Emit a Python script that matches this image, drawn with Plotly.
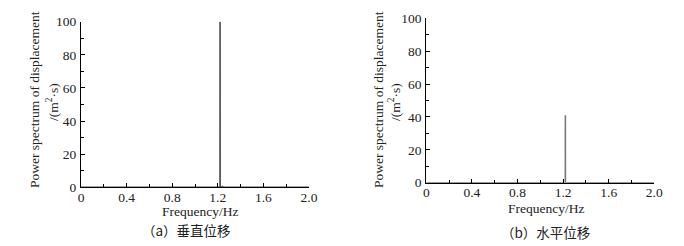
import plotly.graph_objects as go

# Data
freq_a = [0.0, 1.20, 1.2195, 1.22, 1.2205, 1.235, 1.238, 1.24, 1.242, 2.0]
psd_a = [0.0, 0.0, 0.0, 100.0, 0.0, 0.0, 0.0, 0.8, 0.0, 0.0]
freq_b = [0.0, 1.20, 1.2195, 1.22, 1.2205, 1.24, 2.0]
psd_b = [0.0, 0.0, 0.0, 41.0, 0.0, 0.0, 0.0]
x_tickvals = [0, 0.4, 0.8, 1.2, 1.6, 2.0]
x_ticktext = ["0", "0.4", "0.8", "1.2", "1.6", "2.0"]
y_tickvals = [0, 20, 40, 60, 80, 100]
captions = ["（a）垂直位移", "（b）水平位移"]
y_title_1 = "Power spectrum of displacement"
y_title_2 = "/(m<sup>2</sup>·s)"
x_title = "Frequency/Hz"

W, H = 684, 246
FONT = "Times New Roman"
TXT = "#222"

fig = go.Figure()
fig.add_trace(go.Scatter(x=freq_a, y=psd_a, mode="lines",
                         line=dict(color="#4a4a4a", width=1.6),
                         xaxis="x", yaxis="y", showlegend=False))
fig.add_trace(go.Scatter(x=freq_b, y=psd_b, mode="lines",
                         line=dict(color="#7a7a7a", width=1.6),
                         xaxis="x2", yaxis="y2", showlegend=False))

def px_x(p):
    return p / W

def px_y(p):
    return 1 - p / H

panels = [
    # x0, x1, ybottom, ytop (pixels)
    (81, 309, 187.3, 21.7),
    (426.3, 654.3, 182.7, 18.3),
]

common_x = dict(range=[0, 2.0], tickvals=x_tickvals, ticktext=x_ticktext,
                ticks="inside", ticklen=4, tickcolor="black", tickwidth=1,
                showline=True, linecolor="black", linewidth=1,
                showgrid=False, zeroline=False, automargin=False,
                minor=dict(dtick=0.2, ticks="inside", ticklen=3,
                           tickcolor="black", showgrid=False),
                tickfont=dict(family=FONT, size=13.5, color=TXT),
                ticklabelstandoff=-3,
                fixedrange=True)
common_y = dict(range=[0, 100], tickvals=y_tickvals,
                ticks="inside", ticklen=4, tickcolor="black", tickwidth=1,
                showline=True, linecolor="black", linewidth=1,
                showgrid=False, zeroline=False, automargin=False,
                minor=dict(dtick=10, ticks="inside", ticklen=3,
                           tickcolor="black", showgrid=False),
                tickfont=dict(family=FONT, size=13.5, color=TXT),
                ticklabelstandoff=1,
                fixedrange=True)

layout = dict(
    width=W, height=H,
    margin=dict(l=0, r=0, t=0, b=0, autoexpand=False),
    paper_bgcolor="white", plot_bgcolor="white",
    showlegend=False,
)
for i, (x0, x1, yb, yt) in enumerate(panels):
    sx = "" if i == 0 else str(i + 1)
    layout["xaxis" + sx] = dict(common_x, domain=[px_x(x0), px_x(x1)],
                                anchor="y" + sx)
    layout["yaxis" + sx] = dict(common_y, domain=[px_y(yb), px_y(yt)],
                                anchor="x" + sx)
fig.update_layout(**layout)

ann = []
title_pos = [
    # (line1 x, line2 x, y center, xtitle x, xtitle y, caption x, caption y)
    (34, 53, 100, 200, 211, 186, 230),
    (378, 395, 100, 546, 208, 545, 232),
]
for i, (l1x, l2x, yc, xtx, xty, cx, cy) in enumerate(title_pos):
    ann.append(dict(x=px_x(l1x), y=px_y(yc), xref="paper", yref="paper",
                    text=y_title_1, textangle=-90, showarrow=False,
                    xanchor="center", yanchor="middle",
                    font=dict(family=FONT, size=13.5, color=TXT)))
    ann.append(dict(x=px_x(l2x), y=px_y(yc + 2), xref="paper", yref="paper",
                    text=y_title_2, textangle=-90, showarrow=False,
                    xanchor="center", yanchor="middle",
                    font=dict(family=FONT, size=13.5, color=TXT)))
    ann.append(dict(x=px_x(xtx), y=px_y(xty), xref="paper", yref="paper",
                    text=x_title, showarrow=False,
                    xanchor="center", yanchor="middle",
                    font=dict(family=FONT, size=13.5, color=TXT)))
    ann.append(dict(x=px_x(cx), y=px_y(cy), xref="paper", yref="paper",
                    text=captions[i], showarrow=False,
                    xanchor="center", yanchor="middle",
                    font=dict(family="Noto Sans CJK SC", size=13.5, color=TXT)))
fig.update_layout(annotations=ann)

fig.write_html("out.html", config={"displayModeBar": False},
               post_script="document.body.style.margin='0';document.body.style.padding='0';")
